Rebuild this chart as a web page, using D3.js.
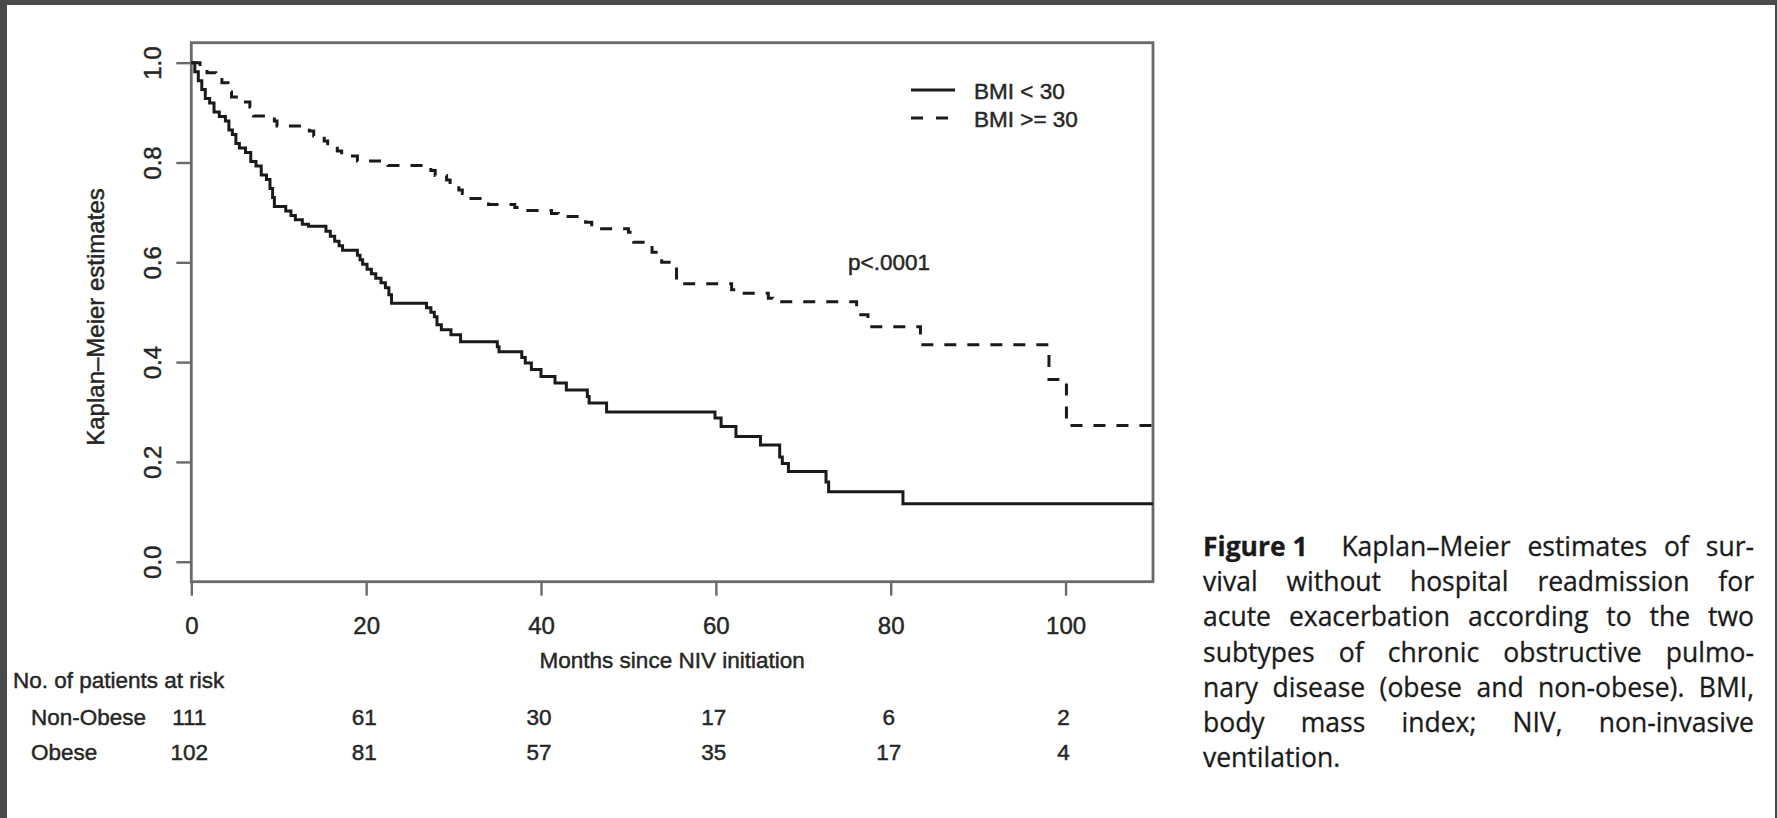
<!DOCTYPE html>
<html>
<head>
<meta charset="utf-8">
<script src="https://cdn.jsdelivr.net/npm/d3@7"></script>
<style>
  html, body { margin: 0; padding: 0; background: #fff; }
  svg { display: block; }
</style>
</head>
<body>
<div id="chart"></div>
<script>
// Kaplan-Meier step data (months, survival after the step)
const nonObeseTimes = [0.4, 0.8, 1.2, 1.6, 2.1, 2.6, 3.2, 3.9, 4.3, 4.7, 5.1, 5.5, 6.2, 6.8, 7.4, 8.0, 8.6, 9.0, 9.3, 9.5,
  10.8, 11.4, 11.9, 12.7, 13.4, 15.4, 15.9, 16.4, 16.9, 17.3, 19.0, 19.3, 19.6, 20.1, 20.6, 21.1, 21.7, 22.2, 22.6, 22.9,
  26.9, 27.4, 27.8, 28.1, 28.6, 29.7, 30.8, 35.0, 35.2, 37.8, 38.2, 38.9, 40.0, 41.6, 42.9, 45.3, 45.5, 47.5,
  59.9, 60.6, 62.3, 65.1, 67.3, 67.6, 68.3, 72.6, 72.9, 81.4];
const nonObeseSurv = [0.982, 0.964, 0.946, 0.928, 0.919, 0.901, 0.892, 0.883, 0.865, 0.856, 0.838, 0.829, 0.820, 0.802, 0.793, 0.775, 0.766, 0.748, 0.730, 0.712,
  0.703, 0.694, 0.685, 0.676, 0.672, 0.662, 0.652, 0.642, 0.633, 0.624, 0.614, 0.605, 0.596, 0.586, 0.577, 0.568, 0.559, 0.549, 0.535, 0.518,
  0.509, 0.500, 0.491, 0.475, 0.465, 0.455, 0.441, 0.431, 0.421, 0.409, 0.398, 0.385, 0.371, 0.358, 0.344, 0.331, 0.318, 0.300,
  0.288, 0.271, 0.251, 0.234, 0.210, 0.197, 0.181, 0.160, 0.140, 0.116];

const obeseTimes = [1.0, 1.8, 2.8, 3.5, 4.2, 4.6, 6.2, 6.7, 7.1, 9.5, 9.8, 13.5, 14.0, 15.2, 15.6, 16.7, 17.2, 19.0, 22.5,
  27.4, 27.9, 29.2, 29.6, 30.6, 31.0, 31.8, 34.0, 37.0, 38.5, 41.2, 42.0, 45.1, 45.8, 50.0, 50.6, 52.7, 53.8, 55.5,
  61.8, 62.3, 66.0, 66.5, 76.1, 77.4, 83.4, 98.1, 100.1];
const obeseSurv = [0.990, 0.980, 0.970, 0.960, 0.941, 0.931, 0.921, 0.911, 0.893, 0.883, 0.873, 0.863, 0.853, 0.843, 0.833, 0.823, 0.813, 0.803, 0.794,
  0.784, 0.774, 0.765, 0.755, 0.745, 0.738, 0.728, 0.716, 0.710, 0.704, 0.698, 0.692, 0.680, 0.667, 0.660, 0.640, 0.620, 0.600, 0.557,
  0.545, 0.538, 0.528, 0.521, 0.495, 0.471, 0.435, 0.365, 0.273];

const xTicks = [0, 20, 40, 60, 80, 100];
const yTicks = [0, 0.2, 0.4, 0.6, 0.8, 1.0];
const legendLabels = ["BMI < 30", "BMI >= 30"];

const riskTimes = [0, 20, 40, 60, 80, 100];
const riskNonObese = [111, 61, 30, 17, 6, 2];
const riskObese = [102, 81, 57, 35, 17, 4];
const riskGroups = ["Non-Obese", "Obese"];

const captionLines = [
  ["Figure 1", "Kaplan\u2013Meier", "estimates", "of", "sur-"],
  ["vival", "without", "hospital", "readmission", "for"],
  ["acute", "exacerbation", "according", "to", "the", "two"],
  ["subtypes", "of", "chronic", "obstructive", "pulmo-"],
  ["nary", "disease", "(obese", "and", "non-obese).", "BMI,"],
  ["body", "mass", "index;", "NIV,", "non-invasive"],
  ["ventilation."]
];

const W = 1777, H = 818;
const textCol = "#262626";
const lineCol = "#1a1a1a";
const frameCol = "#6a6a6a";

const svg = d3.select("#chart").append("svg")
    .attr("width", W)
    .attr("height", H);

svg.append("rect").attr("width", W).attr("height", H).attr("fill", "#fff");
// dark page frame from the screenshot
svg.append("rect").attr("x", 0).attr("y", 0).attr("width", W).attr("height", 5).attr("fill", "#4a4a4a");
svg.append("rect").attr("x", 0).attr("y", 0).attr("width", 7).attr("height", H).attr("fill", "#4a4a4a");
svg.append("rect").attr("x", W - 2).attr("y", 0).attr("width", 2).attr("height", H).attr("fill", "#4a4a4a");

const x = d3.scaleLinear().domain([0, 110]).range([191.3, 1153]);
const y = d3.scaleLinear().domain([-0.04, 1.04]).range([581.7, 42.7]);

const plotFont = "'Liberation Sans', Arial, Helvetica, sans-serif";

// the scanned text is a bit heavier than the plain font
function plotText(sel, size) {
    return sel.attr("font-family", plotFont)
        .attr("font-size", size)
        .attr("fill", textCol)
        .attr("stroke", textCol)
        .attr("stroke-width", 0.45);
}

/**
 * Axes
 */
const xAxis = svg.append("g")
    .attr("transform", `translate(0,${y(-0.04)})`)
    .call(d3.axisBottom(x).tickValues(xTicks).tickSize(14).tickPadding(21));
xAxis.select(".domain").remove();
xAxis.selectAll("line").attr("stroke", frameCol).attr("stroke-width", 2.4);
plotText(xAxis.selectAll("text"), 24);

const yAxis = svg.append("g")
    .attr("transform", `translate(${x(0)},0)`)
    .call(d3.axisLeft(y).tickValues(yTicks).tickSize(15).tickFormat(d3.format(".1f")));
yAxis.select(".domain").remove();
yAxis.selectAll("line").attr("stroke", frameCol).attr("stroke-width", 2.4);
plotText(yAxis.selectAll("text"), 24)
    .attr("text-anchor", "middle")
    .attr("x", 0)
    .attr("y", 0)
    .attr("dy", null)
    .attr("transform", "translate(-30,0) rotate(-90)");

// plot box
svg.append("rect")
    .attr("x", x(0))
    .attr("y", y(1.04))
    .attr("width", x(110) - x(0))
    .attr("height", y(-0.04) - y(1.04))
    .attr("fill", "none")
    .attr("stroke", frameCol)
    .attr("stroke-width", 2.8);

// axis titles
plotText(svg.append("text"), 22.5)
    .attr("x", (x(0) + x(110)) / 2)
    .attr("y", 668)
    .attr("text-anchor", "middle")
    .text("Months since NIV initiation");

plotText(svg.append("text"), 24)
    .attr("transform", "translate(104,317) rotate(-90)")
    .attr("text-anchor", "middle")
    .text("Kaplan\u2013Meier estimates");

/**
 * Survival curves
 */
function stepData(times, surv) {
    const pts = [[0, 1]];
    times.forEach((t, i) => pts.push([t, surv[i]]));
    pts.push([110, surv[surv.length - 1]]);
    return pts;
}

const stepLine = d3.line()
    .x(d => x(d[0]))
    .y(d => y(d[1]))
    .curve(d3.curveStepAfter);

svg.append("path")
    .datum(stepData(nonObeseTimes, nonObeseSurv))
    .attr("d", stepLine)
    .attr("fill", "none")
    .attr("stroke", lineCol)
    .attr("stroke-width", 3);

svg.append("path")
    .datum(stepData(obeseTimes, obeseSurv))
    .attr("d", stepLine)
    .attr("fill", "none")
    .attr("stroke", lineCol)
    .attr("stroke-width", 3)
    .attr("stroke-dasharray", "12,11");

/**
 * Legend
 */
const legend = svg.append("g").attr("transform", "translate(911,90)");
legend.selectAll("line")
    .data(legendLabels)
    .enter()
    .append("line")
    .attr("x1", 0)
    .attr("x2", 44)
    .attr("y1", (d, i) => i * 28)
    .attr("y2", (d, i) => i * 28)
    .attr("stroke", lineCol)
    .attr("stroke-width", 3)
    .attr("stroke-dasharray", (d, i) => i ? "12,13" : null);
plotText(legend.selectAll("text")
    .data(legendLabels)
    .enter()
    .append("text"), 22.5)
    .attr("x", 63)
    .attr("y", (d, i) => i * 28 + 9)
    .text(d => d);

plotText(svg.append("text"), 22.5)
    .attr("x", 848)
    .attr("y", 270)
    .text("p<.0001");

/**
 * Number at risk table
 */
plotText(svg.append("text"), 22.5)
    .attr("x", 13)
    .attr("y", 688)
    .text("No. of patients at risk");

const riskRows = [riskNonObese, riskObese];
riskRows.forEach((row, r) => {
    const rowY = 725 + r * 35;
    plotText(svg.append("text"), 22.5)
        .attr("x", 31)
        .attr("y", rowY)
        .text(riskGroups[r]);
    plotText(svg.selectAll(null)
        .data(row)
        .enter()
        .append("text"), 22.5)
        .attr("x", (d, i) => x(riskTimes[i]) - 2)
        .attr("y", rowY)
        .attr("text-anchor", "middle")
        .text(d => d);
});

/**
 * Caption, justified by hand
 */
const capLeft = 1203, capRight = 1754, capTop = 556, capStep = 35.2;
const capFont = "'Open Sans', 'Noto Sans', sans-serif";
const cap = svg.append("g");
captionLines.forEach((words, li) => {
    const yy = capTop + li * capStep;
    const nodes = words.map((w, wi) => cap.append("text")
        .attr("y", yy)
        .attr("font-family", capFont)
        .attr("font-size", 26.5)
        .attr("font-weight", li === 0 && wi === 0 ? 700 : 400)
        .attr("fill", "#1a1a1a")
        .attr("stroke", "#1a1a1a")
        .attr("stroke-width", 0.3)
        .text(w));
    const widths = nodes.map(n => n.node().getComputedTextLength());
    const total = d3.sum(widths);
    const weights = words.map((w, wi) => wi === 0 ? 0 : (li === 0 && wi === 1 ? 2 : 1));
    const wsum = d3.sum(weights);
    const last = li === captionLines.length - 1;
    const unit = last ? 7 : (capRight - capLeft - total) / wsum;
    let cx = capLeft;
    nodes.forEach((n, i) => {
        cx += weights[i] * unit;
        n.attr("x", cx);
        cx += widths[i];
    });
});
</script>
</body>
</html>
